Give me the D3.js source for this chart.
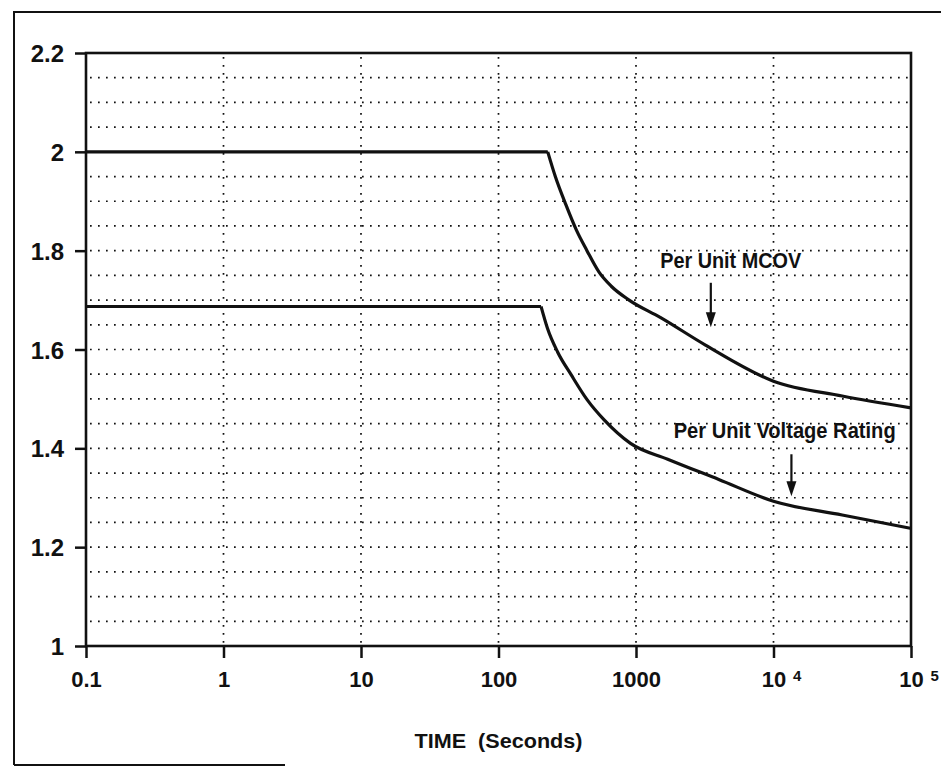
<!DOCTYPE html>
<html>
<head>
<meta charset="utf-8">
<script src="https://cdn.jsdelivr.net/npm/d3@7"></script>
<style>
  html, body { margin: 0; padding: 0; background: #fff; }
  svg { display: block; }
  text { font-family: "Liberation Sans", Arial, Helvetica, sans-serif; font-weight: bold; fill: #111; }
</style>
</head>
<body>
<div id="chart"></div>
<script>
// ------- data -------
const mcovTime   = [0.1, 228, 259, 309, 368, 440, 537, 661, 891, 1500, 3200, 10000, 31600, 100000];
const mcovValue  = [2.0, 2.0, 1.95, 1.893, 1.842, 1.80, 1.757, 1.728, 1.70, 1.665, 1.609, 1.536, 1.506, 1.482];

const ratingTime  = [0.1, 204, 227, 269, 339, 442, 589, 912, 1700, 4000, 10000, 31600, 100000];
const ratingValue = [1.687, 1.687, 1.643, 1.595, 1.548, 1.498, 1.457, 1.41, 1.378, 1.337, 1.293, 1.265, 1.238];

const xTicks      = [0.1, 1, 10, 100, 1000, 1e4, 1e5];
const xTickLabels = ["0.1", "1", "10", "100", "1000", "10", "10"];
const xTickSups   = ["", "", "", "", "", "4", "5"];
const yTicks      = [1, 1.2, 1.4, 1.6, 1.8, 2, 2.2];
const yTickLabels = ["1", "1.2", "1.4", "1.6", "1.8", "2", "2.2"];
const xGrid       = [1, 10, 100, 1000, 1e4];
const yGrid       = d3.range(1, 24).map(i => +(1 + i * 0.05).toFixed(2)).filter(v => v < 2.2);

const seriesNames = ["Per Unit MCOV", "Per Unit Voltage Rating"];
const xTitle = "TIME  (Seconds)";

(() => {
  const width = 941, height = 769;
  const ink = "#111";

  const svg = d3.select("#chart").append("svg")
    .attr("width", width).attr("height", height);

  const x = d3.scaleLog().domain([0.1, 1e5]).range([86, 911]);
  const y = d3.scaleLinear().domain([1, 2.2]).range([646, 53]);

  // outer page frame (scanned figure border)
  svg.append("path")
    .attr("d", `M14,${height - 4} L14,12 L${width + 5},12`)
    .attr("fill", "none").attr("stroke", ink).attr("stroke-width", 2);
  svg.append("line")
    .attr("x1", 14).attr("x2", 285).attr("y1", height - 4).attr("y2", height - 4)
    .attr("stroke", ink).attr("stroke-width", 2);

  // dotted grid
  const grid = svg.append("g").attr("stroke", ink).attr("stroke-width", 1.7)
    .attr("stroke-dasharray", "1.7,6.3").attr("stroke-linecap", "butt");
  grid.selectAll("line.h").data(yGrid).join("line").attr("class", "h")
    .attr("x1", x(0.1) + 4).attr("x2", x(1e5))
    .attr("y1", d => y(d)).attr("y2", d => y(d));
  grid.selectAll("line.v").data(xGrid).join("line").attr("class", "v")
    .attr("x1", d => x(d)).attr("x2", d => x(d))
    .attr("y1", y(2.2) + 4).attr("y2", y(1));

  // axes
  const yAxis = d3.axisLeft(y).tickValues(yTicks).tickSize(11).tickPadding(11)
    .tickFormat((d, i) => yTickLabels[i]);
  svg.append("g").attr("transform", `translate(${x(0.1)},0)`).call(yAxis)
    .call(g => g.select(".domain").remove())
    .call(g => g.selectAll("line").attr("stroke", ink).attr("stroke-width", 2.5))
    .call(g => g.selectAll("text").attr("fill", ink).style("font-size", "24px")
      .attr("dy", "0.36em"));

  const xAxis = d3.axisBottom(x).tickValues(xTicks).tickSize(12).tickPadding(13)
    .tickFormat((d, i) => xTickLabels[i]);
  const xg = svg.append("g").attr("transform", `translate(0,${y(1)})`).call(xAxis)
    .call(g => g.select(".domain").remove())
    .call(g => g.selectAll("line").attr("stroke", ink).attr("stroke-width", 2.5))
    .call(g => g.selectAll("text").attr("fill", ink).style("font-size", "22px"));

  // superscripts for 10^4, 10^5
  xg.selectAll("g.tick").each(function (d, i) {
    if (!xTickSups[i]) return;
    d3.select(this).append("text")
      .attr("x", 19).attr("y", 35)
      .attr("text-anchor", "start")
      .attr("fill", ink)
      .style("font-size", "15px")
      .text(xTickSups[i]);
  });

  // plot frame
  svg.append("rect")
    .attr("x", x(0.1)).attr("y", y(2.2))
    .attr("width", x(1e5) - x(0.1)).attr("height", y(1) - y(2.2))
    .attr("fill", "none").attr("stroke", ink).attr("stroke-width", 2.6);

  // curves: flat section straight, decay section smooth
  const drawSeries = (ts, vs) => {
    const pts = ts.map((t, i) => [x(t), y(vs[i])]);
    svg.append("path")
      .attr("d", d3.line()(pts.slice(0, 2)))
      .attr("fill", "none").attr("stroke", ink).attr("stroke-width", 3.2);
    svg.append("path")
      .attr("d", d3.line().curve(d3.curveMonotoneX)(pts.slice(1)))
      .attr("fill", "none").attr("stroke", ink).attr("stroke-width", 3.2)
      .attr("stroke-linejoin", "round");
  };
  drawSeries(mcovTime, mcovValue);
  drawSeries(ratingTime, ratingValue);

  // annotations with arrows
  const notes = [
    { text: seriesNames[0], tx: 1500, ty: 1.765, len: 141, ax: 3500, a0: 1.735, a1: 1.645 },
    { text: seriesNames[1], tx: 1880, ty: 1.42, len: 222, ax: 13500, a0: 1.388, a1: 1.303 }
  ];
  notes.forEach(n => {
    svg.append("text")
      .attr("x", x(n.tx)).attr("y", y(n.ty))
      .attr("textLength", n.len).attr("lengthAdjust", "spacingAndGlyphs")
      .style("font-size", "22px")
      .text(n.text);
    const ax = x(n.ax), y0 = y(n.a0), y1 = y(n.a1);
    svg.append("line")
      .attr("x1", ax).attr("x2", ax).attr("y1", y0).attr("y2", y1 - 12)
      .attr("stroke", ink).attr("stroke-width", 2.2);
    svg.append("path")
      .attr("d", `M${ax - 5},${y1 - 15} L${ax + 5},${y1 - 15} L${ax},${y1} Z`)
      .attr("fill", ink);
  });

  // x axis title
  svg.append("text")
    .attr("x", (x(0.1) + x(1e5)) / 2).attr("y", 748)
    .attr("text-anchor", "middle")
    .attr("textLength", 168).attr("lengthAdjust", "spacingAndGlyphs")
    .style("font-size", "21px")
    .style("white-space", "pre")
    .text(xTitle);
})();
</script>
</body>
</html>
